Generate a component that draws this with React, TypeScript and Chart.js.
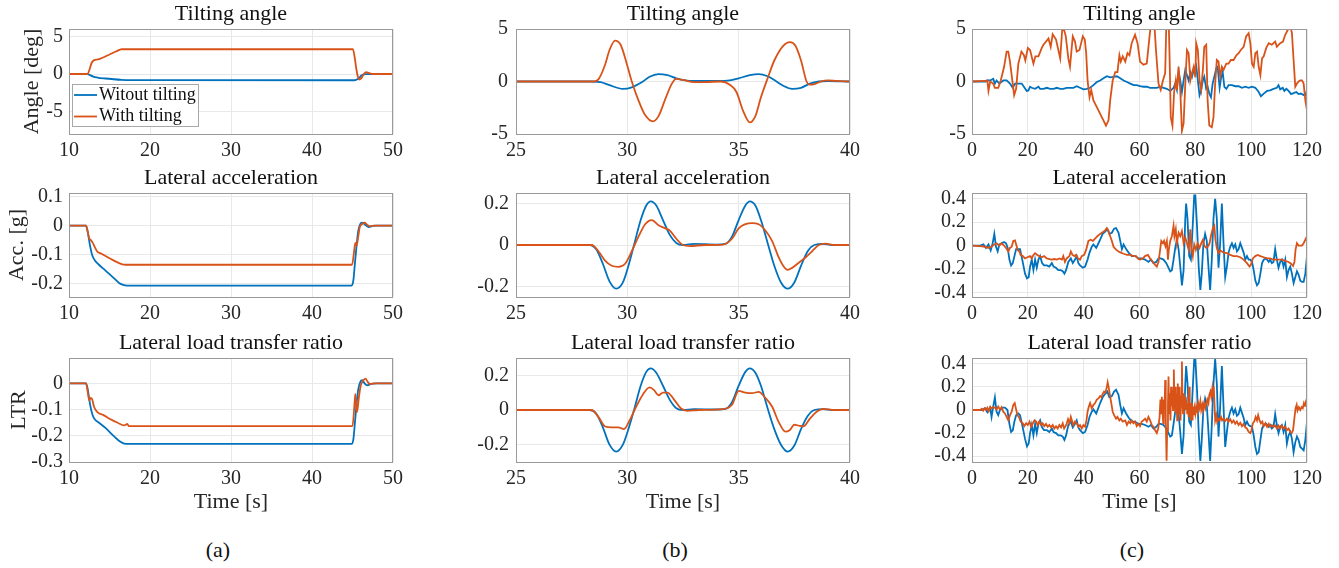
import React, { useEffect, useRef } from 'react';
import { Chart, registerables } from 'chart.js';

Chart.register(...registerables);

// ---------------- text ----------------
const SERIES_LABELS = ['Witout tilting', 'With tilting'];
const ROW_TITLES = ['Tilting angle', 'Lateral acceleration', 'Lateral load transfer ratio'];
const Y_LABELS = ['Angle [deg]', 'Acc. [g]', 'LTR'];
const X_LABEL = 'Time [s]';
const PANEL_TAGS = ['(a)', '(b)', '(c)'];

// ---------------- ticks / limits ----------------
const X_TICKS_A = [10, 20, 30, 40, 50];
const X_TICKS_B = [25, 30, 35, 40];
const X_TICKS_C = [0, 20, 40, 60, 80, 100, 120];
const X_RANGE_A = [10, 50];
const X_RANGE_B = [25, 40];
const X_RANGE_C = [0, 120];

const Y_TICKS_ANGLE = [-5, 0, 5];
const Y_TICKS_A_ACC = [-0.2, -0.1, 0, 0.1];
const Y_TICKS_A_LTR = [-0.3, -0.2, -0.1, 0];
const Y_TICKS_B = [-0.2, 0, 0.2];
const Y_TICKS_C = [-0.4, -0.2, 0, 0.2, 0.4];

const Y_RANGE_A_ANGLE = [-8, 6];
const Y_RANGE_A_ACC = [-0.246, 0.112];
const Y_RANGE_A_LTR = [-0.3, 0.097];
const Y_RANGE_B_ANGLE = [-5, 5];
const Y_RANGE_B_ACC = [-0.25, 0.25];
const Y_RANGE_B_LTR = [-0.3, 0.3];
const Y_RANGE_C_ANGLE = [-5, 5];
const Y_RANGE_C_ACC = [-0.44, 0.45];
const Y_RANGE_C_LTR = [-0.45, 0.45];

// ---------------- data (time, value) ----------------
// (a) steady turn
const A_ANGLE_WITHOUT = [[10,0],[12.3,0],[12.6,-0.15],[13.0,-0.35],[13.5,-0.47],[14.5,-0.6],[15.5,-0.7],[16.5,-0.78],[17.5,-0.82],[20,-0.83],[45.2,-0.83],[45.5,-0.75],[45.8,-0.55],[46.1,-0.2],[46.4,-0.05],[46.8,-0.02],[47.5,0],[50,0]];
const A_ANGLE_WITH = [[10,0],[12.3,0],[12.5,0.5],[12.8,1.5],[13.1,1.85],[13.6,1.95],[14.2,2.2],[15.0,2.6],[15.8,3.0],[16.5,3.3],[17,3.3],[45.05,3.3],[45.3,2.0],[45.5,0.5],[45.7,-0.5],[45.85,-0.75],[46.1,-0.55],[46.4,0],[46.7,0.25],[47.0,0.15],[47.5,0],[50,0]];
const A_ACC_WITHOUT = [[10,0],[12.1,0],[12.3,-0.02],[12.6,-0.07],[12.9,-0.105],[13.2,-0.12],[13.7,-0.135],[14.5,-0.155],[15.5,-0.18],[16.3,-0.2],[16.8,-0.205],[17.5,-0.207],[44.9,-0.207],[45.1,-0.19],[45.3,-0.13],[45.5,-0.07],[45.7,-0.02],[45.95,0.005],[46.2,0.01],[46.6,0.002],[47.0,-0.005],[47.5,-0.001],[48,0],[50,0]];
const A_ACC_WITH = [[10,0],[12.1,0],[12.3,-0.02],[12.5,-0.045],[12.7,-0.05],[12.9,-0.058],[13.2,-0.075],[13.5,-0.09],[14.0,-0.097],[14.5,-0.105],[15.5,-0.12],[16.5,-0.133],[17,-0.135],[44.95,-0.135],[45.15,-0.1],[45.35,-0.06],[45.5,-0.07],[45.7,-0.04],[45.9,-0.005],[46.2,0.005],[46.5,0.01],[46.8,0.003],[47.2,-0.003],[47.6,0],[50,0]];
const A_LTR_WITHOUT = [[10,0],[12.1,0],[12.3,-0.02],[12.6,-0.08],[12.9,-0.12],[13.2,-0.138],[13.7,-0.15],[14.5,-0.17],[15.5,-0.2],[16.3,-0.222],[16.8,-0.23],[17.5,-0.231],[44.9,-0.231],[45.1,-0.215],[45.3,-0.15],[45.5,-0.08],[45.7,-0.025],[45.95,0.005],[46.2,0.012],[46.5,0.0],[46.8,-0.007],[47.3,-0.002],[48,0],[50,0]];
const A_LTR_WITH = [[10,0],[12.1,0],[12.3,-0.03],[12.5,-0.065],[12.65,-0.055],[12.85,-0.06],[13.1,-0.09],[13.5,-0.11],[14.2,-0.12],[15.0,-0.135],[16.0,-0.15],[16.8,-0.16],[17.2,-0.155],[17.4,-0.163],[18,-0.163],[45.0,-0.163],[45.2,-0.1],[45.35,-0.04],[45.55,-0.11],[45.8,-0.05],[46.0,-0.01],[46.3,0.01],[46.6,0.018],[46.9,0.005],[47.2,-0.003],[47.6,0],[50,0]];

// (b) double lane change
const B_ANGLE_WITHOUT = [[25,0],[28.4,0],[28.8,-0.05],[29.2,-0.35],[29.8,-0.7],[30.2,-0.55],[30.7,0],[31.0,0.45],[31.4,0.7],[31.8,0.6],[32.2,0.3],[32.6,0.1],[33,0.05],[34,0.05],[34.6,0.1],[35.0,0.3],[35.5,0.6],[35.9,0.7],[36.3,0.5],[36.7,0],[37.0,-0.4],[37.4,-0.7],[37.8,-0.6],[38.2,-0.2],[38.6,0],[39,0.05],[40,0]];
const B_ANGLE_WITH = [[25,0],[28.5,0],[28.7,0.2],[29.0,1.6],[29.2,3.0],[29.45,3.9],[29.7,3.5],[30.0,1.5],[30.2,0],[30.5,-1.8],[30.8,-3.2],[31.15,-3.8],[31.4,-3.3],[31.7,-1.7],[32.0,-0.2],[32.2,0.25],[32.5,0.15],[33.0,-0.05],[33.5,-0.05],[34.2,0],[34.6,-0.3],[34.9,-1.0],[35.2,-2.8],[35.5,-3.9],[35.75,-3.3],[36.0,-1.5],[36.3,0.3],[36.6,2.0],[37.0,3.4],[37.3,3.75],[37.55,3.4],[37.8,2.0],[38.05,0],[38.2,-0.3],[38.4,-0.25],[38.7,0],[39.0,0.1],[39.4,0.05],[40,0]];
const B_ACC_WITHOUT = [[25,0],[28.3,0],[28.6,-0.02],[28.9,-0.09],[29.2,-0.175],[29.5,-0.21],[29.8,-0.18],[30.05,-0.1],[30.3,0],[30.6,0.12],[30.85,0.19],[31.05,0.21],[31.3,0.19],[31.6,0.12],[31.9,0.05],[32.2,0.01],[32.5,0],[33,0.005],[34,0.002],[34.4,0.005],[34.7,0.04],[35.0,0.12],[35.3,0.19],[35.5,0.21],[35.75,0.19],[36.0,0.12],[36.3,0.01],[36.6,-0.1],[36.9,-0.18],[37.2,-0.21],[37.5,-0.18],[37.8,-0.1],[38.1,-0.03],[38.4,0],[38.8,0.005],[39.2,0],[40,0]];
const B_ACC_WITH = [[25,0],[28.4,0],[28.7,-0.03],[29.0,-0.075],[29.3,-0.1],[29.6,-0.105],[29.9,-0.09],[30.2,-0.03],[30.5,0.04],[30.8,0.1],[31.1,0.12],[31.4,0.095],[31.7,0.08],[31.9,0.07],[32.2,0.03],[32.5,0.0],[32.8,-0.005],[33.5,0],[34.3,0.002],[34.7,0.03],[35.0,0.08],[35.3,0.1],[35.6,0.105],[35.9,0.1],[36.2,0.07],[36.5,0.02],[36.8,-0.06],[37.0,-0.1],[37.2,-0.12],[37.4,-0.11],[37.7,-0.085],[38.0,-0.06],[38.3,-0.03],[38.6,0.0],[38.9,0.007],[39.3,0],[40,0]];
const B_LTR_WITHOUT = [[25,0],[28.3,0],[28.6,-0.02],[28.9,-0.1],[29.2,-0.2],[29.5,-0.24],[29.8,-0.2],[30.05,-0.11],[30.3,0],[30.6,0.14],[30.85,0.22],[31.05,0.24],[31.3,0.215],[31.6,0.14],[31.9,0.06],[32.2,0.01],[32.5,0],[33,0.005],[34,0.003],[34.4,0.006],[34.7,0.045],[35.0,0.14],[35.3,0.22],[35.5,0.24],[35.75,0.215],[36.0,0.14],[36.3,0.01],[36.6,-0.11],[36.9,-0.2],[37.2,-0.24],[37.5,-0.205],[37.8,-0.11],[38.1,-0.035],[38.4,0],[38.8,0.005],[39.2,0],[40,0]];
const B_LTR_WITH = [[25,0],[28.4,0],[28.7,-0.04],[29.0,-0.095],[29.3,-0.1],[29.6,-0.1],[29.85,-0.11],[30.1,-0.06],[30.4,0.02],[30.7,0.09],[31.0,0.13],[31.2,0.115],[31.4,0.085],[31.6,0.1],[31.8,0.1],[32.1,0.06],[32.4,0.01],[32.7,-0.005],[33.2,0],[34.3,0.005],[34.7,0.03],[35.0,0.11],[35.3,0.1],[35.6,0.097],[35.9,0.105],[36.2,0.07],[36.5,0.02],[36.8,-0.07],[37.1,-0.125],[37.3,-0.115],[37.5,-0.085],[37.7,-0.09],[37.9,-0.095],[38.2,-0.05],[38.5,-0.01],[38.8,0.007],[39.3,0],[40,0]];

// (c) road drive
const C_ANGLE_WITHOUT = [[0,0],[5,0],[5.3,0.1],[6.5,0.1],[7.6,0.25],[8.2,-0.2],[8.8,0.1],[9.8,-0.2],[11.2,0.1],[12.4,0.1],[13.6,-0.2],[14.6,-0.6],[15.4,-0.2],[17.8,-0.2],[18.6,-0.5],[19.6,-0.9],[20.2,-0.85],[20.8,-0.5],[21.4,-0.6],[22.6,-0.7],[23.8,-0.5],[24.4,-0.7],[25.6,-0.7],[26.8,-0.6],[28,-0.7],[29.2,-0.7],[30.4,-0.6],[31.6,-0.7],[32.7,-0.7],[33.9,-0.6],[35.1,-0.6],[36.3,-0.6],[37.5,-0.45],[38.7,-0.6],[39.9,-0.75],[41.1,-0.7],[42.3,-0.6],[43.5,-0.35],[44.7,-0.05],[45.9,0.1],[47.1,0.3],[48.3,0.5],[49.5,0.4],[50.7,0.45],[51.9,0.5],[53.1,0.3],[54.3,0.1],[55.5,-0.05],[56.7,-0.2],[57.9,-0.35],[59,-0.35],[60.2,-0.45],[61.4,-0.5],[62.6,-0.5],[63.8,-0.6],[65,-0.6],[66.2,-0.6],[67.4,-0.5],[68.6,-0.6],[69.8,-0.7],[71,-0.9],[72.2,-0.6],[72.8,-0.2],[73.4,-0.8],[74,0.95],[74.6,0.1],[75.2,-1.0],[75.8,0.1],[76.4,1.1],[77,0.6],[77.6,0.1],[78.2,0.9],[78.8,0.45],[79.4,1.1],[80,1.4],[80.3,1.55],[80.9,0.1],[81.5,-1.3],[82.1,-0.8],[82.7,0.1],[83.2,0.45],[83.9,-0.7],[84.4,-0.5],[85,-1.15],[85.6,-1.5],[86.2,-0.2],[86.8,0.45],[87.5,1.25],[88,1.4],[88.7,-0.6],[89.2,0.3],[89.8,0.9],[90.4,-0.5],[91.1,-0.7],[91.9,-0.35],[93.1,-0.35],[94.3,-0.45],[95.5,-0.45],[96.7,-0.6],[97.9,-0.5],[99.1,-0.6],[100.3,-0.5],[101.5,-0.6],[102.7,-1.0],[103.5,-1.4],[104.5,-1.15],[105.7,-0.9],[106.8,-0.85],[108,-0.7],[109.2,-0.6],[109.8,-0.35],[110.4,-0.75],[111.3,-0.6],[111.9,-0.9],[112.6,-0.7],[113.4,-0.9],[114.3,-1.2],[115.2,-1.1],[116.2,-1.0],[117,-1.2],[117.8,-1.15],[118.8,-1.3],[119.4,-1.3],[120,-0.85]];
const C_ANGLE_WITH = [[0,0],[5,0.05],[5.5,0.1],[5.9,-0.9],[6.5,0],[7.6,-0.2],[8.2,-0.6],[9.4,-0.6],[10.3,0.1],[11.5,1.4],[12.4,2.85],[13,2.85],[13.6,1.9],[15.1,-1.3],[15.8,-0.7],[16.6,1.7],[17.7,2.85],[18.6,2.5],[19.1,2.0],[20,3.2],[20.8,3.0],[22,1.7],[22.7,2.4],[23.8,2.4],[25,3.2],[25.6,3.5],[27.4,4.1],[28.2,3.3],[28.9,4.5],[30.1,4.0],[31.6,2.2],[32.3,4.9],[33,4.9],[33.6,4.3],[34.5,2.2],[35.1,1.4],[36.1,4.3],[36.9,3.8],[37.5,2.85],[38.5,3.0],[39.7,4.3],[40.4,4.0],[40.9,2.7],[41.4,0.1],[42.1,-1.5],[42.7,-0.8],[43.5,-1.8],[45.3,-2.75],[46.9,-3.6],[48,-4.2],[48.9,-3.7],[49.5,-1.8],[50.4,0.1],[51.3,0.9],[52.1,0.9],[52.8,2.5],[53.3,1.9],[54,2.4],[54.9,1.9],[55.7,2.7],[56.4,2.5],[57.2,3.65],[58.4,4.45],[59.3,3.65],[60.2,1.9],[61.4,1.6],[62.6,1.7],[63.6,4.3],[64.3,6.0],[65.2,6.0],[65.9,3.0],[66.8,-0.2],[67.6,-0.8],[68.4,0.1],[69.2,0.8],[69.7,6.5],[70.4,6.5],[70.8,2.0],[71.2,-3.4],[71.8,-4.2],[72.4,-1.0],[73,0.1],[73.4,-0.8],[74,1.4],[74.6,-0.8],[75.2,-4.7],[75.8,-4.0],[76.4,-0.2],[77,3.0],[77.6,2.7],[78.2,0.1],[78.8,0.8],[79.4,1.4],[80,0.4],[80.3,3.65],[80.9,3.0],[81.5,0.1],[82.1,-0.8],[82.7,1.1],[83.2,3.3],[83.9,3.5],[84.4,-1.8],[85,-4.2],[85.9,-4.35],[86.5,-3.4],[87.1,-0.2],[87.7,2.05],[88.3,1.9],[88.9,0.45],[89.5,1.4],[90.1,1.1],[91.1,1.7],[91.9,1.7],[92.7,2.05],[93.7,2.05],[94.7,2.5],[95.5,2.7],[96.3,3.0],[97.3,3.3],[98.2,4.3],[99.1,4.6],[99.7,3.65],[100.3,1.7],[100.9,1.4],[101.5,2.7],[102.1,2.85],[102.7,1.4],[103.3,0.6],[103.9,2.2],[104.5,2.4],[105.4,3.2],[106.3,3.65],[107.4,3.5],[108.6,3.8],[109.2,3.3],[110.4,3.65],[111.4,3.8],[112.2,4.45],[113.1,4.9],[114,5.3],[114.6,4.6],[115.2,2.05],[115.8,-0.5],[116.4,-0.2],[117,0],[117.6,0.1],[118.2,0.1],[118.8,-0.2],[119.4,-1.8],[120,-2.75]];
const C_ACC_WITHOUT = [[0,0],[2.9,0],[4.1,0.01],[5,-0.02],[5.9,0.01],[6.7,-0.04],[7.4,0.02],[8,0.1],[8.6,-0.01],[9.2,-0.05],[9.8,0.01],[10.6,0.02],[11.5,0.03],[12.2,0.02],[12.8,-0.02],[13.4,-0.12],[14,-0.17],[14.6,-0.15],[15.2,-0.09],[15.8,-0.03],[16.6,-0.03],[17.2,-0.03],[18,-0.12],[19,-0.24],[19.7,-0.28],[20.3,-0.27],[20.8,-0.18],[21.4,-0.12],[22,-0.21],[22.6,-0.12],[23.2,-0.19],[23.8,-0.12],[24.4,-0.09],[25.1,-0.15],[25.8,-0.17],[26.8,-0.17],[27.7,-0.18],[28.6,-0.15],[29.2,-0.18],[30.1,-0.19],[30.9,-0.21],[31.8,-0.21],[32.5,-0.22],[33.1,-0.24],[33.7,-0.21],[34.5,-0.14],[35.4,-0.11],[36.1,-0.15],[36.9,-0.12],[37.5,-0.09],[38.1,-0.15],[38.7,-0.17],[39.7,-0.19],[40.5,-0.18],[41.4,-0.12],[42.1,-0.06],[42.9,-0.01],[43.5,0.01],[44.5,-0.02],[45.3,0.02],[45.9,0.05],[46.8,0.1],[47.7,0.12],[48.5,0.14],[49.2,0.1],[50.1,0.11],[50.9,0.145],[51.6,0.15],[52.5,0.11],[53.1,0.04],[53.7,-0.03],[54.3,0.01],[55.2,-0.03],[56.1,-0.06],[57.2,-0.09],[58.4,-0.09],[59.6,-0.11],[60.8,-0.11],[62,-0.12],[63.2,-0.14],[64.1,-0.12],[65,-0.15],[66,-0.14],[66.8,-0.11],[67.6,-0.11],[68.6,-0.12],[69.6,-0.15],[70.4,-0.19],[71,-0.22],[71.6,-0.21],[72.2,-0.12],[72.8,-0.02],[73.4,0.05],[74,-0.03],[74.6,-0.18],[75.2,-0.34],[75.8,-0.21],[76.4,0.23],[76.7,0.36],[77.2,0.23],[77.8,-0.09],[78.4,-0.12],[79,0.14],[79.6,0.43],[80,0.43],[80.6,0.17],[81.2,-0.18],[81.8,-0.38],[82.3,-0.24],[82.9,0.02],[83.5,0.1],[84.1,0.04],[84.7,-0.18],[85.3,-0.38],[85.9,-0.12],[86.5,0.23],[87.1,0.4],[87.7,0.23],[88.3,-0.19],[88.9,0.02],[89.5,0.36],[90.1,0.02],[90.7,-0.27],[91.3,-0.18],[91.9,-0.06],[92.5,-0.01],[93.1,0.02],[93.7,-0.02],[94.3,0.01],[94.9,-0.05],[95.5,-0.03],[96.1,0.02],[96.7,-0.02],[97.3,-0.06],[97.9,-0.12],[98.5,-0.09],[99.1,-0.12],[99.7,-0.12],[100.3,-0.14],[100.9,-0.21],[101.5,-0.3],[102.1,-0.34],[102.7,-0.32],[103.3,-0.24],[103.9,-0.15],[104.5,-0.12],[105.4,-0.11],[106.3,-0.14],[106.8,-0.12],[107.4,-0.15],[108,-0.14],[108.6,-0.03],[109.2,-0.12],[109.8,-0.19],[110.4,-0.14],[111,-0.12],[111.6,-0.18],[112.2,-0.12],[112.8,-0.27],[113.4,-0.21],[114,-0.18],[114.6,-0.24],[115.2,-0.32],[115.8,-0.27],[116.4,-0.22],[117,-0.25],[117.6,-0.3],[118.2,-0.31],[118.8,-0.31],[119.4,-0.24],[120,-0.09]];
const C_ACC_WITH = [[0,0],[2.9,-0.005],[4.7,-0.01],[5.9,-0.02],[7,-0.01],[8,0.01],[8.8,0.02],[9.8,0],[10.6,0.02],[11.5,0],[12.2,-0.02],[13,-0.05],[13.6,-0.02],[14.2,-0.01],[14.8,0.04],[15.4,0.045],[16,-0.005],[16.4,-0.04],[17,-0.05],[17.4,-0.08],[18.2,-0.09],[19,-0.11],[19.8,-0.1],[20.8,-0.09],[21.4,-0.11],[22,-0.08],[22.6,-0.065],[23.4,-0.08],[24.1,-0.09],[25,-0.1],[25.8,-0.09],[26.8,-0.11],[27.7,-0.115],[28.6,-0.12],[29.4,-0.115],[30.4,-0.12],[31.3,-0.11],[32.2,-0.12],[32.7,-0.09],[33.3,-0.14],[33.9,-0.11],[34.9,-0.09],[35.4,-0.05],[36,-0.08],[36.7,-0.09],[37.3,-0.08],[38,-0.11],[38.7,-0.12],[39.3,-0.09],[40.2,-0.08],[40.9,-0.035],[41.7,0.04],[42.5,0.05],[43.3,0.04],[44.1,0.06],[44.9,0.08],[45.9,0.1],[46.8,0.115],[47.7,0.13],[48.3,0.15],[48.9,0.125],[49.5,0.08],[50.1,0.04],[50.7,-0.01],[51.6,-0.035],[52.5,-0.05],[53.3,-0.06],[54.3,-0.07],[55.5,-0.08],[56.7,-0.08],[57.8,-0.09],[58.8,-0.09],[59.6,-0.115],[60.2,-0.12],[61.2,-0.11],[62,-0.09],[63,-0.08],[63.8,-0.11],[64.8,-0.14],[65.6,-0.165],[66.2,-0.18],[66.8,-0.14],[67.4,-0.035],[67.8,0.04],[68.4,0.02],[68.8,0.04],[69.3,-0.005],[69.8,0.04],[70.2,-0.12],[70.5,-0.035],[71,0.04],[71.6,0.08],[72.2,0.17],[72.5,0.08],[73,0.14],[73.4,0.02],[74,0.11],[74.6,0.08],[75.2,0.125],[75.8,0.02],[76.4,0.07],[77,0.02],[77.6,-0.035],[78.2,0.14],[78.5,-0.005],[79.1,-0.09],[79.6,0.01],[80.2,-0.035],[80.8,0.02],[81.5,-0.02],[82.1,0.02],[82.7,0.05],[83.3,-0.005],[83.9,-0.02],[84.5,-0.01],[85.1,0.02],[85.7,0.095],[86.3,0.15],[86.8,0.17],[87.2,0.05],[87.7,-0.02],[88.3,-0.065],[88.9,-0.04],[89.5,-0.05],[90.1,-0.06],[91.3,-0.065],[92.5,-0.08],[93.7,-0.09],[94.9,-0.09],[96.1,-0.1],[97.3,-0.12],[98.5,-0.15],[99.4,-0.18],[99.9,-0.165],[100.6,-0.11],[101.5,-0.09],[102.3,-0.08],[103.3,-0.09],[104.5,-0.1],[105.7,-0.11],[106.8,-0.11],[107.8,-0.12],[108.6,-0.12],[109.8,-0.12],[111,-0.12],[112.2,-0.13],[113.4,-0.14],[114.3,-0.155],[115,-0.175],[115.5,-0.14],[115.9,-0.035],[116.4,0.02],[117,0],[117.6,0],[118.2,0],[118.8,0.02],[119.4,0.05],[120,0.08]];
const C_LTR_WITHOUT = [[0,0],[3.5,0],[4.7,0.015],[5.5,-0.02],[6.5,0.02],[7,-0.06],[7.6,0.03],[8.2,0.11],[8.8,-0.015],[9.4,-0.045],[10,0],[11,0.02],[11.8,0.02],[12.7,0],[13.4,-0.12],[14,-0.19],[14.6,-0.175],[15.2,-0.1],[15.8,-0.045],[16.6,-0.03],[17.2,-0.045],[18,-0.13],[19,-0.25],[19.7,-0.315],[20.3,-0.29],[20.8,-0.2],[21.4,-0.13],[22,-0.22],[22.6,-0.12],[23.2,-0.2],[23.8,-0.12],[24.4,-0.09],[25.1,-0.15],[25.8,-0.175],[26.8,-0.175],[27.7,-0.19],[28.6,-0.16],[29.2,-0.19],[30.1,-0.2],[30.9,-0.22],[31.8,-0.22],[32.5,-0.23],[33.1,-0.26],[33.7,-0.22],[34.5,-0.13],[35.4,-0.1],[36.1,-0.15],[36.9,-0.12],[37.5,-0.09],[38.1,-0.15],[38.7,-0.175],[39.7,-0.2],[40.5,-0.19],[41.4,-0.13],[42.1,-0.06],[42.9,-0.015],[43.5,0.005],[44.5,-0.03],[45.3,0.02],[45.9,0.06],[46.8,0.11],[47.7,0.14],[48.5,0.16],[49.2,0.11],[50.1,0.12],[50.9,0.16],[51.6,0.175],[52.5,0.13],[53.1,0.045],[53.7,-0.03],[54.3,0.015],[55.2,-0.03],[56.1,-0.065],[57.2,-0.1],[58.4,-0.1],[59.6,-0.12],[60.8,-0.12],[62,-0.13],[63.2,-0.145],[64.1,-0.13],[65,-0.16],[66,-0.145],[66.8,-0.12],[67.6,-0.12],[68.6,-0.13],[69.6,-0.16],[70.4,-0.2],[71,-0.23],[71.6,-0.22],[72.2,-0.12],[72.8,-0.015],[73.4,0.06],[74,-0.03],[74.6,-0.19],[75.2,-0.38],[75.8,-0.22],[76.4,0.23],[76.7,0.38],[77.2,0.23],[77.8,-0.1],[78.4,-0.13],[79,0.15],[79.6,0.44],[80,0.45],[80.6,0.175],[81.2,-0.19],[81.8,-0.44],[82.3,-0.26],[82.9,0.015],[83.5,0.1],[84.1,0.045],[84.7,-0.19],[85.3,-0.44],[85.9,-0.13],[86.5,0.23],[87.1,0.44],[87.7,0.23],[88.3,-0.23],[88.9,0.03],[89.5,0.38],[90.1,0.03],[90.7,-0.32],[91.3,-0.19],[91.9,-0.07],[92.5,-0.015],[93.1,0.02],[93.7,-0.03],[94.3,0.005],[94.9,-0.05],[95.5,-0.035],[96.1,0.02],[96.7,-0.025],[97.3,-0.07],[97.9,-0.13],[98.5,-0.1],[99.1,-0.13],[99.7,-0.14],[100.3,-0.145],[100.9,-0.22],[101.5,-0.32],[102.1,-0.38],[102.7,-0.365],[103.3,-0.26],[103.9,-0.16],[104.5,-0.13],[105.4,-0.12],[106.3,-0.145],[106.8,-0.13],[107.4,-0.16],[108,-0.145],[108.6,-0.035],[109.2,-0.13],[109.8,-0.2],[110.4,-0.145],[111,-0.13],[111.6,-0.19],[112.2,-0.13],[112.8,-0.29],[113.4,-0.22],[114,-0.19],[114.6,-0.25],[115.2,-0.365],[115.8,-0.28],[116.4,-0.23],[117,-0.26],[117.6,-0.32],[118.2,-0.335],[118.8,-0.35],[119.4,-0.26],[120,-0.1]];
const C_LTR_WITH = [[0,0],[3,0],[3.5,0.01],[4,-0.005],[4.5,0.015],[5,0],[5.5,0.02],[6,-0.01],[6.5,0.025],[7,0.015],[7.6,0.025],[8.2,0.02],[8.8,0.005],[9.4,0.03],[10,0.005],[10.6,0.025],[11.2,-0.015],[11.8,-0.03],[12.4,-0.06],[13,-0.09],[13.6,-0.045],[14.2,-0.015],[14.8,0.045],[15.3,0.06],[15.8,0.005],[16.3,-0.045],[16.9,-0.065],[17.4,-0.1],[18.2,-0.115],[18.7,-0.14],[19.4,-0.115],[20,-0.13],[20.6,-0.1],[21.2,-0.145],[21.8,-0.115],[22.4,-0.09],[23,-0.1],[23.5,-0.13],[24.1,-0.1],[24.7,-0.13],[25.3,-0.115],[25.9,-0.14],[26.5,-0.12],[27.1,-0.145],[27.7,-0.13],[28.3,-0.15],[28.9,-0.13],[29.5,-0.16],[30.1,-0.14],[30.7,-0.16],[31.3,-0.13],[31.9,-0.15],[32.5,-0.115],[33,-0.16],[33.5,-0.14],[33.9,-0.12],[34.4,-0.08],[34.9,-0.115],[35.4,-0.06],[35.9,-0.1],[36.3,-0.13],[36.9,-0.1],[37.5,-0.115],[38.1,-0.145],[38.7,-0.13],[39.3,-0.16],[39.9,-0.13],[40.5,-0.145],[41,-0.09],[41.4,-0.015],[41.8,0.025],[42.3,0.06],[42.9,0.015],[43.5,0.045],[44.1,0.06],[44.7,0.09],[45.3,0.1],[45.9,0.12],[46.4,0.11],[46.8,0.14],[47.3,0.16],[47.8,0.15],[48.3,0.2],[48.6,0.24],[49,0.19],[49.5,0.115],[50,0.045],[50.4,-0.015],[50.9,-0.045],[51.6,-0.075],[52.1,-0.06],[52.8,-0.09],[53.3,-0.075],[54,-0.1],[54.9,-0.09],[55.5,-0.13],[56.1,-0.1],[56.7,-0.115],[57.2,-0.09],[57.8,-0.115],[58.4,-0.1],[59,-0.14],[59.6,-0.12],[60.2,-0.14],[60.8,-0.1],[61.4,-0.09],[62,-0.075],[62.6,-0.1],[63.2,-0.06],[63.8,-0.09],[64.4,-0.13],[65,-0.145],[65.6,-0.175],[66.2,-0.2],[66.7,-0.16],[67.2,-0.06],[67.5,0.09],[67.8,-0.03],[68,0.115],[68.2,0],[68.5,-0.115],[68.7,0.09],[69,0.03],[69.2,0.26],[69.4,-0.06],[69.7,-0.44],[69.9,-0.175],[70.2,0.06],[70.4,0.29],[70.6,-0.03],[70.9,0.145],[71.1,-0.09],[71.3,0.2],[71.6,0.03],[71.8,0.175],[72,0],[72.3,0.35],[72.5,0.09],[72.8,0.2],[73,-0.03],[73.2,0.145],[73.5,-0.09],[73.7,0.23],[74,0.09],[74.2,-0.03],[74.4,0.2],[74.7,-0.09],[74.9,0.115],[75.2,0.42],[75.4,0.06],[75.6,-0.03],[75.9,0.145],[76.1,0.03],[76.4,0.115],[76.6,0],[76.8,0.09],[77.1,-0.03],[77.3,0.06],[77.6,-0.06],[77.8,0.2],[78,0.06],[78.3,-0.09],[78.5,0.06],[78.8,0],[79,-0.09],[79.2,0.03],[79.5,-0.045],[79.7,0.015],[80,-0.03],[80.3,0.03],[80.7,-0.015],[81,0.06],[81.4,0.015],[81.8,0.075],[82.1,0],[82.5,0.045],[82.8,0],[83.2,0.06],[83.6,0.015],[83.9,0.045],[84.3,0.09],[84.7,0.06],[85,0.13],[85.4,0.16],[85.7,0.115],[86.1,0.19],[86.4,0.115],[86.6,0.2],[86.9,0.03],[87.1,-0.09],[87.5,-0.045],[87.8,-0.1],[88.2,-0.075],[88.7,-0.09],[89.2,-0.06],[89.6,-0.09],[90.1,-0.075],[90.7,-0.095],[91.3,-0.075],[91.9,-0.1],[92.5,-0.08],[93.1,-0.11],[93.7,-0.09],[94.3,-0.12],[94.9,-0.1],[95.5,-0.13],[96.1,-0.11],[96.7,-0.14],[97.3,-0.12],[97.9,-0.15],[98.5,-0.16],[99.1,-0.19],[99.7,-0.2],[100.1,-0.175],[100.6,-0.115],[101.1,-0.1],[101.6,-0.06],[102.1,-0.09],[102.5,-0.045],[103,-0.09],[103.5,-0.115],[104,-0.1],[104.5,-0.14],[105.1,-0.115],[105.7,-0.145],[106.3,-0.12],[106.8,-0.145],[107.4,-0.13],[108,-0.145],[108.6,-0.135],[109.2,-0.16],[109.8,-0.135],[110.4,-0.16],[111,-0.135],[111.6,-0.16],[112.2,-0.145],[112.8,-0.175],[113.4,-0.16],[114,-0.19],[114.5,-0.2],[115,-0.175],[115.4,-0.09],[115.9,0.015],[116.3,0.045],[116.6,-0.005],[117.1,0.025],[117.6,0],[118.1,0.025],[118.5,0.015],[118.9,0.06],[119.3,0.035],[119.6,0.075],[120,0.1]];

// ---------------- styling / layout (not data) ----------------
const FONT = "'Liberation Serif', 'Times New Roman', Times, serif";
const BLUE = '#0072BD';
const ORANGE = '#D95319';
const GRID = '#e8e8e8';
const BOX = '#9a9a9a';
const TEXT = '#262626';

const COL_L = [69, 516, 972];
const COL_R = [393, 850, 1307];
const ROW_T = [29, 193, 358];
const ROW_B = [134, 297, 462];
const YW = 66;
const RP = 24;
const TH = 28;
const XH = [30, 30, 53];
const TAG_X = [218, 675, 1132];
const TAG_Y = 550;

type Pair = number[];
interface Panel {
  col: number; row: number;
  xr: number[]; xt: number[]; yr: number[]; yt: number[];
  wo: Pair[]; wi: Pair[];
  yLabel?: string; yLabelPad?: number; yTickPad: number;
  smooth: boolean; legend?: boolean;
}

const PANELS: Panel[] = [
  { col: 0, row: 0, xr: X_RANGE_A, xt: X_TICKS_A, yr: Y_RANGE_A_ANGLE, yt: Y_TICKS_ANGLE, wo: A_ANGLE_WITHOUT, wi: A_ANGLE_WITH, yLabel: Y_LABELS[0], yLabelPad: 16, yTickPad: 6, smooth: true, legend: true },
  { col: 0, row: 1, xr: X_RANGE_A, xt: X_TICKS_A, yr: Y_RANGE_A_ACC, yt: Y_TICKS_A_ACC, wo: A_ACC_WITHOUT, wi: A_ACC_WITH, yLabel: Y_LABELS[1], yLabelPad: 1, yTickPad: 6, smooth: true },
  { col: 0, row: 2, xr: X_RANGE_A, xt: X_TICKS_A, yr: Y_RANGE_A_LTR, yt: Y_TICKS_A_LTR, wo: A_LTR_WITHOUT, wi: A_LTR_WITH, yLabel: Y_LABELS[2], yLabelPad: 3, yTickPad: 6, smooth: true },
  { col: 1, row: 0, xr: X_RANGE_B, xt: X_TICKS_B, yr: Y_RANGE_B_ANGLE, yt: Y_TICKS_ANGLE, wo: B_ANGLE_WITHOUT, wi: B_ANGLE_WITH, yTickPad: 8, smooth: true },
  { col: 1, row: 1, xr: X_RANGE_B, xt: X_TICKS_B, yr: Y_RANGE_B_ACC, yt: Y_TICKS_B, wo: B_ACC_WITHOUT, wi: B_ACC_WITH, yTickPad: 7, smooth: true },
  { col: 1, row: 2, xr: X_RANGE_B, xt: X_TICKS_B, yr: Y_RANGE_B_LTR, yt: Y_TICKS_B, wo: B_LTR_WITHOUT, wi: B_LTR_WITH, yTickPad: 7, smooth: true },
  { col: 2, row: 0, xr: X_RANGE_C, xt: X_TICKS_C, yr: Y_RANGE_C_ANGLE, yt: Y_TICKS_ANGLE, wo: C_ANGLE_WITHOUT, wi: C_ANGLE_WITH, yTickPad: 6, smooth: false },
  { col: 2, row: 1, xr: X_RANGE_C, xt: X_TICKS_C, yr: Y_RANGE_C_ACC, yt: Y_TICKS_C, wo: C_ACC_WITHOUT, wi: C_ACC_WITH, yTickPad: 6, smooth: false },
  { col: 2, row: 2, xr: X_RANGE_C, xt: X_TICKS_C, yr: Y_RANGE_C_LTR, yt: Y_TICKS_C, wo: C_LTR_WITHOUT, wi: C_LTR_WITH, yTickPad: 6, smooth: false },
];

const boxPlugin = {
  id: 'axesBox',
  afterDraw(chart: any) {
    const { ctx, chartArea: a } = chart;
    ctx.save();
    ctx.strokeStyle = BOX;
    ctx.lineWidth = 1;
    ctx.strokeRect(Math.round(a.left) + 0.5, Math.round(a.top) + 0.5, Math.round(a.right - a.left) - 1, Math.round(a.bottom - a.top));
    ctx.restore();
  },
};

const legendPlugin = {
  id: 'insideLegend',
  afterDraw(chart: any) {
    const { ctx, chartArea: a } = chart;
    const w = 127, h = 43;
    const x0 = Math.round(a.left) + 3;
    const y0 = Math.round(a.bottom) - 7 - h;
    ctx.save();
    ctx.fillStyle = '#ffffff';
    ctx.fillRect(x0, y0, w, h);
    ctx.strokeStyle = '#a8a8a8';
    ctx.lineWidth = 1;
    ctx.strokeRect(x0 + 0.5, y0 + 0.5, w - 1, h - 1);
    chart.data.datasets.forEach((ds: any, i: number) => {
      const cy = y0 + 11 + i * 21.5;
      ctx.strokeStyle = ds.borderColor;
      ctx.lineWidth = 1.8;
      ctx.beginPath();
      ctx.moveTo(x0 + 2, cy);
      ctx.lineTo(x0 + 25, cy);
      ctx.stroke();
      ctx.fillStyle = '#111111';
      ctx.font = `18px ${FONT}`;
      ctx.textAlign = 'left';
      ctx.textBaseline = 'middle';
      ctx.fillText(ds.label, x0 + 27, cy);
    });
    ctx.restore();
  },
};

function Subplot({ p }: { p: Panel }) {
  const ref = useRef<HTMLCanvasElement>(null);
  const plotW = COL_R[p.col] - COL_L[p.col];
  const plotH = ROW_B[p.row] - ROW_T[p.row];
  const left = COL_L[p.col] - YW;
  const top = ROW_T[p.row] - TH;
  const width = YW + plotW + RP;
  const height = TH + plotH + XH[p.row];
  const isBottom = p.row === 2;

  useEffect(() => {
    if (!ref.current) return;
    const tickFont = { family: FONT, size: 20, lineHeight: '24px' };
    const mk = (pairs: Pair[]) => pairs.map(([x, y]) => ({ x, y }));
    const chart = new Chart(ref.current, {
      type: 'line',
      data: {
        datasets: [
          { label: SERIES_LABELS[0], data: mk(p.wo), borderColor: BLUE, backgroundColor: BLUE, borderWidth: 1.8, pointRadius: 0, fill: false, order: 2, tension: 0, cubicInterpolationMode: p.smooth ? 'monotone' : 'default' },
          { label: SERIES_LABELS[1], data: mk(p.wi), borderColor: ORANGE, backgroundColor: ORANGE, borderWidth: 1.8, pointRadius: 0, fill: false, order: 1, tension: 0, cubicInterpolationMode: p.smooth ? 'monotone' : 'default' },
        ],
      },
      options: {
        responsive: false,
        animation: false,
        events: [],
        parsing: false,
        normalized: true,
        layout: { padding: { left: 0, top: 0, right: RP, bottom: 0 } },
        plugins: {
          legend: { display: false },
          tooltip: { enabled: false },
          title: {
            display: true,
            text: ROW_TITLES[p.row],
            fullSize: false,
            color: '#111111',
            font: { family: FONT, size: 22, weight: 'normal', lineHeight: '26px' },
            padding: { top: 0, bottom: 2 },
          },
        },
        scales: {
          x: {
            type: 'linear',
            min: p.xr[0],
            max: p.xr[1],
            afterBuildTicks: (ax: any) => { ax.ticks = p.xt.map((v) => ({ value: v })); },
            afterFit: (s: any) => { s.height = XH[p.row]; },
            grid: { color: GRID, lineWidth: 1, drawTicks: false },
            border: { display: false },
            ticks: { padding: 5, color: TEXT, font: tickFont, maxRotation: 0, autoSkip: false, callback: (v: any) => String(v) },
            title: {
              display: isBottom,
              text: X_LABEL,
              color: TEXT,
              font: { family: FONT, size: 22, lineHeight: '26px' },
              padding: { top: 0, bottom: 0 },
            },
          },
          y: {
            type: 'linear',
            min: p.yr[0],
            max: p.yr[1],
            afterBuildTicks: (ax: any) => { ax.ticks = p.yt.map((v) => ({ value: v })); },
            afterFit: (s: any) => { s.width = YW; },
            grid: { color: GRID, lineWidth: 1, drawTicks: false },
            border: { display: false },
            ticks: { padding: p.yTickPad, color: TEXT, font: tickFont, autoSkip: false, callback: (v: any) => String(v) },
            title: {
              display: !!p.yLabel,
              text: p.yLabel || '',
              color: TEXT,
              font: { family: FONT, size: 22, lineHeight: '26px' },
              padding: { top: p.yLabelPad || 0, bottom: 0 },
            },
          },
        },
      } as any,
      plugins: p.legend ? [boxPlugin, legendPlugin] : [boxPlugin],
    });
    return () => chart.destroy();
  }, []);

  return (
    <canvas
      ref={ref}
      width={width}
      height={height}
      style={{ position: 'absolute', left, top, width, height, display: 'block' }}
    />
  );
}

export default function App() {
  return (
    <div style={{ position: 'absolute', left: 0, top: 0, width: 1339, height: 568, background: '#ffffff', overflow: 'hidden' }}>
      {PANELS.map((p, i) => <Subplot key={i} p={p} />)}
      {PANEL_TAGS.map((t, i) => (
        <div
          key={t}
          style={{ position: 'absolute', left: TAG_X[i] - 40, top: TAG_Y - 13, width: 80, height: 26, lineHeight: '26px', textAlign: 'center', fontFamily: FONT, fontSize: 22, color: '#111111' }}
        >
          {t}
        </div>
      ))}
    </div>
  );
}
